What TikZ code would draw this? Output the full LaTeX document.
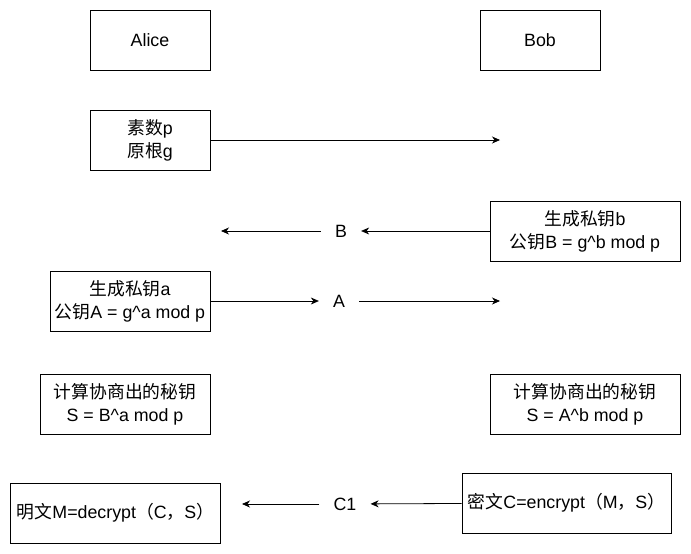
\documentclass[tikz,border=0pt]{standalone}
\usepackage{fontspec}
\setmainfont{Liberation Sans}
\newfontfamily\cjk{Noto Sans CJK SC}
\newcommand\zh[1]{{\cjk #1}}
\usetikzlibrary{arrows.meta}
\def\boxh{60pt}

\begin{document}
\begin{tikzpicture}[
    x=1pt,y=-1pt,
    font=\fontsize{17.8}{23}\selectfont,
    party/.style={draw,line width=0.8pt,align=center,minimum height=\boxh,minimum width=#1,inner sep=2pt},
    msg/.style={inner xsep=14pt,inner ysep=2pt},
    send/.style={-{Stealth[length=8pt,width=7pt,inset=2.5pt]},line width=0.8pt}
  ]

  \useasboundingbox (0,0) rectangle (691,554);

  \node[party=120pt] (alice) at (150,40) {Alice};
  \node[party=120pt] (bob) at (540,40) {Bob};

  \node[party=120pt] (params) at (150,140) {\zh{素数}p\\\zh{原根}g};
  \coordinate (paramsend) at (500,140);
  \draw[send] (params) -- (paramsend);

  \node[party=190pt] (bobkey) at (585,231) {\zh{生成私钥}b\\\zh{公钥}B = g\textasciicircum b mod p};
  \node[msg] (B) at (341,231) {B};
  \coordinate (Bend) at (221,231);
  \draw[send] (bobkey) -- (B);
  \draw[send] (B) -- (Bend);

  \node[party=160pt] (alicekey) at (130,301) {\zh{生成私钥}a\\\zh{公钥}A = g\textasciicircum a mod p};
  \node[msg] (A) at (339,301) {A};
  \coordinate (Aend) at (500,301);
  \draw[send] (alicekey) -- (A);
  \draw[send] (A) -- (Aend);

  \node[party=170pt] (alicesecret) at (125,404) {\zh{计算协商出的秘钥}\\S = B\textasciicircum a mod p};
  \node[party=190pt] (bobsecret) at (585,404) {\zh{计算协商出的秘钥}\\S = A\textasciicircum b mod p};

  \node[party=210pt] (plain) at (115.5,513) {\zh{明文}M=decrypt\zh{（}C\zh{，}S\zh{）}};
  \node[party=209pt] (cipher) at (566.5,503) {\zh{密文}C=encrypt\zh{（}M\zh{，}S\zh{）}};
  \node[msg] (C1) at (345,504) {C1};
  \coordinate (C1end) at (242,504);
  \draw[send] (cipher) -- (C1);
  \draw[send] (C1) -- (C1end);

\end{tikzpicture}
\end{document}
